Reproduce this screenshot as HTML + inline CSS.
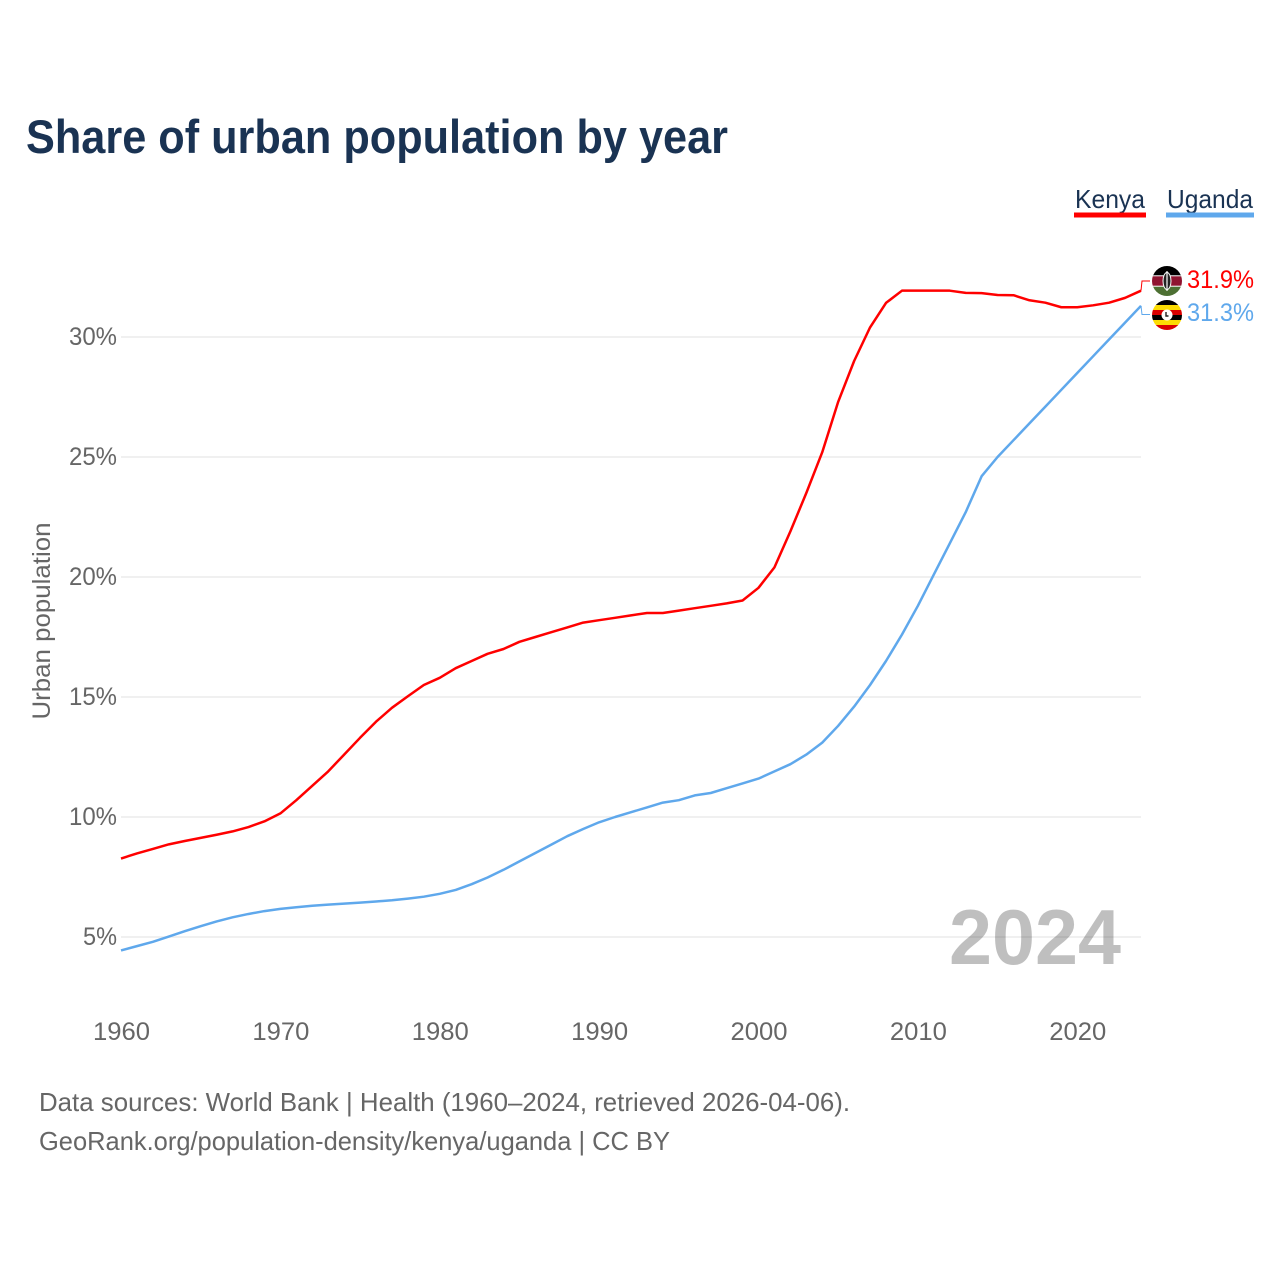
<!DOCTYPE html>
<html lang="en">
<head>
<meta charset="utf-8">
<title>Share of urban population by year</title>
<style>
html,body{margin:0;padding:0;background:#fff;width:1280px;height:1280px;overflow:hidden}
svg{display:block;font-family:"Liberation Sans",sans-serif}
</style>
</head>
<body>
<svg id="chart" xmlns="http://www.w3.org/2000/svg" width="1280" height="1280" viewBox="0 0 1280 1280">
  <rect width="1280" height="1280" fill="#fff"/>
  <text x="26" y="153" font-size="47" font-weight="700" fill="#1a3353" textLength="702" lengthAdjust="spacingAndGlyphs">Share of urban population by year</text>
  <g id="grid"></g>
  <g id="yticks"></g>
  <g id="xticks"></g>
  <text transform="translate(50,621) rotate(-90)" text-anchor="middle" font-size="25" fill="#666" textLength="197" lengthAdjust="spacingAndGlyphs">Urban population</text>
  <text x="949" y="964" font-size="78" font-weight="700" fill="#000" fill-opacity="0.25" textLength="172" lengthAdjust="spacingAndGlyphs">2024</text>
  <g id="series"></g>

  <g>
    <text x="1075" y="208" font-size="26" fill="#1a3353" textLength="70" lengthAdjust="spacingAndGlyphs">Kenya</text>
    <rect x="1074" y="212.500" width="72" height="5" fill="#ff0000"/>
  </g>
  <g>
    <text x="1167" y="208" font-size="26" fill="#1a3353" textLength="86" lengthAdjust="spacingAndGlyphs">Uganda</text>
    <rect x="1166" y="212.500" width="88" height="5" fill="#5fa8ec"/>
  </g>

  <defs>
    <clipPath id="flag-clip-k"><circle cx="1167" cy="281" r="15"/></clipPath>
    <clipPath id="flag-clip-u"><circle cx="1167" cy="315" r="15"/></clipPath>
  </defs>

  <g clip-path="url(#flag-clip-k)">
    <rect x="1152" y="266" width="30" height="10" fill="#000"/>
    <rect x="1152" y="276" width="30" height="10" fill="#8f1430"/>
    <rect x="1152" y="286" width="30" height="10" fill="#4d7033"/>
    <rect x="1152" y="275.300" width="30" height="1" fill="#fff"/>
    <rect x="1152" y="285.700" width="30" height="1" fill="#fff"/>
    <ellipse cx="1167" cy="281" rx="4.500" ry="9" fill="#fff"/>
    <ellipse cx="1167" cy="281" rx="3.500" ry="8" fill="#222"/>
    <rect x="1166.400" y="271" width="1.200" height="20" fill="#fff"/>
  </g>
  <g clip-path="url(#flag-clip-u)">
    <rect x="1152" y="300" width="30" height="5" fill="#000"/>
    <rect x="1152" y="305" width="30" height="5" fill="#fcdc04"/>
    <rect x="1152" y="310" width="30" height="5" fill="#d90000"/>
    <rect x="1152" y="315" width="30" height="5" fill="#000"/>
    <rect x="1152" y="320" width="30" height="5" fill="#fcdc04"/>
    <rect x="1152" y="325" width="30" height="5" fill="#d90000"/>
    <circle cx="1167" cy="315" r="5.500" fill="#fff"/>
    <path d="M1166 312v4h2.500" fill="none" stroke="#222" stroke-width="1.400"/>
  </g>

  <g id="end-labels"></g>

  <text x="39" y="1111" font-size="26" fill="#666" textLength="811" lengthAdjust="spacingAndGlyphs">Data sources: World Bank | Health (1960–2024, retrieved 2026-04-06).</text>
  <text x="39" y="1150" font-size="26" fill="#666" textLength="631" lengthAdjust="spacingAndGlyphs">GeoRank.org/population-density/kenya/uganda | CC BY</text>
</svg>
<script>
const firstYear = 1960;
const kenyaValues = [8.27,8.48,8.67,8.86,9.0,9.13,9.26,9.4,9.58,9.82,10.15,10.7,11.3,11.9,12.6,13.3,13.97,14.55,15.03,15.5,15.8,16.2,16.5,16.8,17.0,17.3,17.5,17.7,17.9,18.1,18.2,18.3,18.4,18.5,18.5,18.6,18.7,18.8,18.9,19.02,19.55,20.4,21.9,23.5,25.2,27.3,29.0,30.4,31.42,31.93,31.93,31.93,31.93,31.84,31.83,31.75,31.74,31.53,31.43,31.24,31.24,31.32,31.43,31.63,31.93];
const ugandaValues = [4.44,4.62,4.8,5.02,5.24,5.45,5.65,5.82,5.96,6.08,6.17,6.24,6.3,6.35,6.39,6.43,6.48,6.53,6.6,6.68,6.8,6.96,7.2,7.48,7.8,8.15,8.5,8.85,9.2,9.5,9.78,10.0,10.2,10.4,10.6,10.7,10.9,11.0,11.2,11.4,11.6,11.9,12.2,12.6,13.1,13.8,14.6,15.5,16.5,17.6,18.8,20.1,21.4,22.7,24.2,25.0,25.7,26.4,27.1,27.8,28.5,29.2,29.9,30.6,31.3];
const yTickValues = [5,10,15,20,25,30];
const xTickValues = [1960,1970,1980,1990,2000,2010,2020];
const kenyaEndLabel = "31.9%";
const ugandaEndLabel = "31.3%";

const NS = "http://www.w3.org/2000/svg";
function xScale(year){ return 121 + (year - 1960) * (1020 / 64); }
function yScale(v){ return 937 - (v - 5) * 24; }
function make(tag, attrs, text){
  const el = document.createElementNS(NS, tag);
  for (const k in attrs) el.setAttribute(k, attrs[k]);
  if (text !== undefined) el.textContent = text;
  return el;
}

const grid = document.getElementById('grid');
const yticks = document.getElementById('yticks');
const xticks = document.getElementById('xticks');
const series = document.getElementById('series');
const endLabels = document.getElementById('end-labels');

yTickValues.forEach(function(v){
  const line = make('line', {x1:121, x2:1141, y1:yScale(v), y2:yScale(v), stroke:'#ececec', 'stroke-width':1.5});
  
  
  grid.appendChild(line);
  const label = make('text', {x:117, y:yScale(v) + 8, 'text-anchor':'end', 'font-size':25, fill:'#666', textLength:(v < 10 ? 34 : 48), lengthAdjust:'spacingAndGlyphs'}, v + '%');
  
  
  yticks.appendChild(label);
});

xTickValues.forEach(function(y){
  const label = make('text', {x:xScale(y) + 0.5, y:1040, 'text-anchor':'middle', 'font-size':25, fill:'#666', textLength:57, lengthAdjust:'spacingAndGlyphs'}, String(y));
  
  
  xticks.appendChild(label);
});

function linePath(values){
  return values.map(function(v, i){
    return (i ? 'L' : 'M') + xScale(firstYear + i).toFixed(2) + ' ' + yScale(v).toFixed(2);
  }).join('');
}

const kenyaLine = make('path', {d:linePath(kenyaValues), fill:'none', stroke:'#ff0000', 'stroke-width':2.5, 'stroke-linejoin':'round'});


series.appendChild(kenyaLine);

const ugandaLine = make('path', {d:linePath(ugandaValues), fill:'none', stroke:'#5fa8ec', 'stroke-width':2.5, 'stroke-linejoin':'round'});


series.appendChild(ugandaLine);

const lastX = xScale(firstYear + kenyaValues.length - 1);

const kenyaConnector = make('path', {d:'M' + lastX + ' ' + yScale(kenyaValues[kenyaValues.length - 1]) + 'L' + (lastX + 1) + ' 281H1150', fill:'none', stroke:'#ff0000', 'stroke-width':1});


endLabels.appendChild(kenyaConnector);

const ugandaConnector = make('path', {d:'M' + lastX + ' ' + yScale(ugandaValues[ugandaValues.length - 1]) + 'L' + (lastX + 1) + ' 314.500H1150', fill:'none', stroke:'#5fa8ec', 'stroke-width':1});


endLabels.appendChild(ugandaConnector);

const kenyaValueLabel = make('text', {x:1254, y:288, 'text-anchor':'end', 'font-size':25, fill:'#ff0000', textLength:67, lengthAdjust:'spacingAndGlyphs'}, kenyaEndLabel);


endLabels.appendChild(kenyaValueLabel);

const ugandaValueLabel = make('text', {x:1254, y:321, 'text-anchor':'end', 'font-size':25, fill:'#5fa8ec', textLength:67, lengthAdjust:'spacingAndGlyphs'}, ugandaEndLabel);


endLabels.appendChild(ugandaValueLabel);
</script>
</body>
</html>
